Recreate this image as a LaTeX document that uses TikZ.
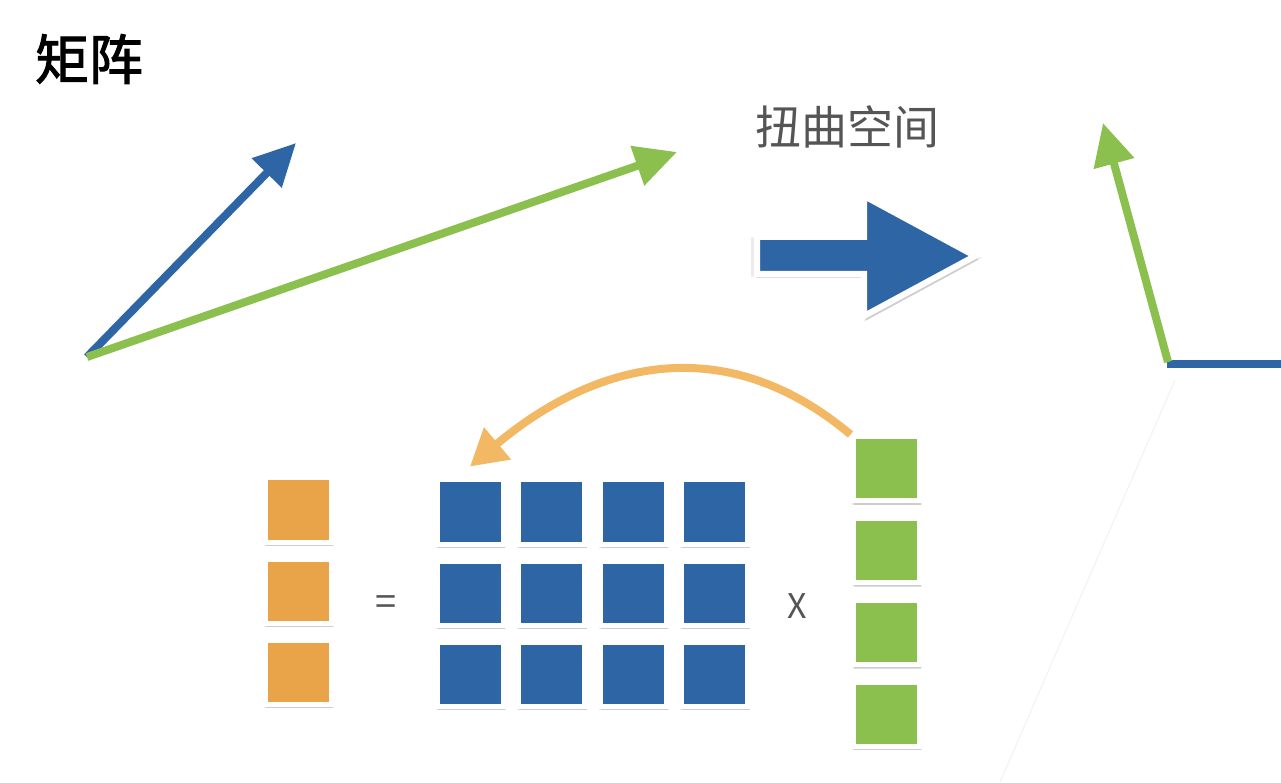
\documentclass[tikz,border=0pt]{standalone}
\usepackage{fontspec}
\newfontfamily\cjk{Noto Sans CJK SC}
\newfontfamily\cjkbold[FakeBold=2]{Noto Sans CJK SC}
\usetikzlibrary{arrows.meta, shadows}
\definecolor{vecblue}{HTML}{2E65A5}
\definecolor{vecgreen}{HTML}{8BC04E}
\definecolor{sqorange}{HTML}{E9A449}
\definecolor{bendorange}{HTML}{F2B864}
\definecolor{textgray}{HTML}{555555}

\tikzset{
  vec/.style={line width=8pt, -{Triangle[length=42pt,width=40pt]}},
  softshadow/.style={
    general shadow={shadow xshift=0.5pt, shadow yshift=-1.5pt, shadow scale=1.06,
      opacity=0.08, fill=black},
    drop shadow={shadow xshift=1.5pt, shadow yshift=-3.5pt,
      shadow scale=1.02, opacity=0.22, fill=black!60}},
  cell/.style={draw=white, line width=5pt, minimum width=66pt, minimum height=64pt,
    inner sep=0pt, softshadow},
  bendarrow/.style={bendorange, line width=8pt, -{Triangle[length=36pt,width=40pt]}},
}

\begin{document}
\begin{tikzpicture}[x=1pt, y=1pt]
        \useasboundingbox[fill=white] (0,0) rectangle (1281,782);

        % Titles
        \node[font=\cjkbold\fontsize{54}{60}\selectfont] (title) at (89,723) {矩阵};
        \node[font=\cjk\fontsize{46}{52}\selectfont, text=textgray] (warp) at (847,655) {扭曲空间};

        % Vectors before
        \coordinate (o1) at (87,425);
        \coordinate (b1) at (296,639);
        \coordinate (g1tip) at (677,630);
        \draw[vec, vecblue] (o1) -- (b1);
        \draw[vec, vecgreen] (o1) -- (g1tip);

        % Big arrow
        \draw[fill=vecblue, draw=white, line width=6pt, softshadow]
          (757,545) -- (864,545) -- (864,586) -- (975,526) -- (864,466)
          -- (864,508) -- (757,508) -- cycle;

        % Vectors after
        \coordinate (o2) at (1167,418);
        \coordinate (g2tip) at (1103,659);
        \coordinate (b2end) at (1281,418);
        \draw[black!5, line width=1pt] (1175,402) -- (1000,0);
        \draw[line width=8pt, vecblue] (o2) -- (b2end);
        \draw[vec, vecgreen] (1168,420) -- (g2tip);

        % Result column
        \foreach \r in {1,2,3}
            \node[cell, fill=sqorange] (o\r) at (298, {272-81*(\r-1)}) {};

        % Matrix
        \foreach \r in {1,2,3}
            \foreach \c in {1,2,3,4}
                \node[cell, fill=vecblue] (m\r\c) at ({470+81.5*(\c-1)}, {270-81*(\r-1)}) {};

        % Input column
        \foreach \r in {1,2,3,4}
            \node[cell, fill=vecgreen] (g\r) at (886, {313-81.7*(\r-1)}) {};

        % Signs
        \node[font=\cjk\fontsize{38}{40}\selectfont, text=textgray] (eq) at (386,176) {=};
        \node[font=\cjk\fontsize{34}{40}\selectfont, text=textgray] (times) at (797,176) {X};

        % Curved arrow
        \draw[bendarrow] (g1.north west) to[out=140, in=40, looseness=1.1] ([yshift=11pt]m11.north);
    \end{tikzpicture}
\end{document}
